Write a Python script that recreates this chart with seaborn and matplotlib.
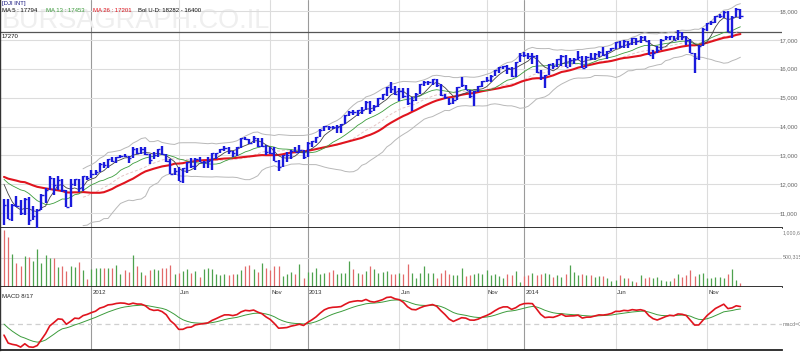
import numpy as np
import pandas as pd
import matplotlib
matplotlib.use("Agg")
import matplotlib.pyplot as plt
import matplotlib.transforms as mtrans
import seaborn as sns

# weekly bars, weeks ending on Friday, 12 Aug 2011 .. 2 Jan 2015
start_week = "2011-08-12"

high = [11500, 11500, 11330, 11610, 11450, 11520, 11550, 11260, 11150, 11670, 11880, 12280, 12230, 12280, 12190, 11800, 12190, 12200, 12190, 12300, 12300,
        12480, 12480, 12730, 12760, 12880, 12940, 12960, 13000, 13060, 12990, 13290, 13250, 13290, 13300, 13060, 13130, 13240, 13340, 13040, 12880, 12550, 12600, 12560, 12790, 12900, 12900, 12960, 12800, 12950, 13100, 13100, 13210, 13330, 13290, 13160, 13310, 13600, 13650, 13580, 13660, 13620, 13590, 13350, 13290, 13290, 12830, 13020, 13110, 13180, 13300, 13350, 13200,
        13480, 13500, 13650, 13900, 14020, 14010, 14020, 14040, 14090, 14400, 14540, 14560, 14590, 14680, 14890, 14870, 14750, 14980, 15120, 15370, 15540, 15410, 15320, 15330, 15350, 15030, 15150, 15470, 15590, 15570, 15660, 15650, 15470, 15110, 15000, 15000, 15380, 15710, 15450, 15250, 15240, 15400, 15580, 15710, 15800, 15970, 16070, 16100, 16120, 16050, 16230, 16530,
        16590, 16530, 16530, 16480, 15950, 15800, 16160, 16200, 16340, 16460, 16460, 16390, 16380, 16630, 16450, 16430, 16530, 16560, 16620, 16740, 16630, 16730, 16930, 16970, 16980, 16950, 17070, 17070, 17150, 17150, 17010, 16660, 16780, 17040, 17120, 17150, 17140, 17350, 17280, 17120, 17030, 16550, 16810, 17400, 17580, 17660, 17820, 17900, 17990, 17990, 17810, 18103, 18060]

low = [10604, 10800, 10720, 11200, 10930, 10930, 10600, 10770, 10404, 11100, 11350, 11800, 11640, 11800, 11750, 11230, 11230, 11960, 11730, 11770, 12140,
       12220, 12320, 12420, 12560, 12560, 12770, 12740, 12900, 12930, 12740, 12920, 13050, 13040, 13020, 12710, 12870, 12950, 13030, 12760, 12370, 12320, 12100, 12035, 12410, 12570, 12500, 12770, 12560, 12560, 12500, 12880, 13080, 13140, 13040, 12960, 12990, 13250, 13530, 13400, 13430, 13300, 13300, 13030, 13060, 12800, 12470, 12590, 12780, 12880, 13130, 13090, 12880,
       12940, 13300, 13430, 13650, 13840, 13880, 13930, 13780, 13780, 14080, 14380, 14400, 14380, 14430, 14560, 14440, 14540, 14660, 14930, 15070, 15170, 15100, 14880, 14980, 14760, 14550, 14900, 15130, 15420, 15440, 15450, 15370, 15070, 14960, 14760, 14780, 14920, 15370, 15250, 14990, 14720, 15200, 15360, 15550, 15550, 15740, 15850, 16000, 15820, 15700, 15700, 16220,
       16420, 16330, 16170, 15860, 15620, 15340, 15790, 16000, 16050, 16110, 16050, 16050, 16150, 16320, 16010, 16020, 16300, 16300, 16400, 16440, 16350, 16600, 16680, 16730, 16730, 16720, 16820, 16830, 16900, 16950, 16460, 16330, 16540, 16660, 16980, 16990, 16980, 16980, 16990, 16830, 16540, 15855, 16320, 16780, 17290, 17510, 17590, 17760, 17750, 17280, 17068, 17800, 17730]

close = [11269, 10818, 11285, 11240, 10992, 11509, 10771, 10913, 11103, 11644, 11808, 12231, 11983, 12153, 11796, 11231, 12019, 12184, 11866, 12294, 12218,
         12360, 12422, 12720, 12660, 12862, 12801, 12950, 12983, 12978, 12922, 13233, 13081, 13212, 13060, 12850, 13029, 13228, 13038, 12821, 12369, 12454, 12119, 12554, 12767, 12640, 12880, 12772, 12777, 12822, 13075, 13096, 13207, 13275, 13158, 13090, 13306, 13593, 13579, 13437, 13610, 13329, 13344, 13107, 13093, 12815, 12588, 13010, 13026, 13155, 13135, 13191, 12938,
         13435, 13488, 13650, 13896, 14010, 13993, 13982, 14001, 14090, 14397, 14515, 14512, 14579, 14565, 14865, 14547, 14712, 14974, 15118, 15354, 15303, 15116, 15248, 15070, 14799, 14910, 15135, 15464, 15543, 15559, 15658, 15425, 15081, 15010, 14810, 14922, 15376, 15452, 15258, 15073, 15237, 15400, 15570, 15615, 15762, 15962, 16065, 16086, 16020, 15755, 16221, 16479,
         16470, 16437, 16459, 15879, 15699, 15794, 16154, 16103, 16322, 16453, 16065, 16303, 16323, 16413, 16027, 16409, 16361, 16513, 16583, 16492, 16606, 16717, 16924, 16776, 16947, 16851, 17068, 16944, 17100, 16961, 16493, 16554, 16663, 17001, 17098, 17137, 16988, 17280, 17113, 17009, 16544, 16380, 16805, 17391, 17573, 17635, 17810, 17828, 17958, 17281, 17805, 18053, 17833]

# closes of the weeks before the first bar, only used to warm up the averages
warmup_close = [11675, 11787, 11872, 11824, 12092, 12273, 12391, 12130, 12169, 12044, 11859, 12221, 12377, 12380, 12342, 12505,
                12811, 12638, 12596, 12512, 12441, 12151, 11952, 12004, 11934, 12582, 12657, 12480, 12681, 12143, 11445]

# weekly volume, thousands
volume_k = [969, 850, 561, 408, 357, 527, 510, 442, 646, 408, 544, 493, 493, 340, 357, 272, 357, 340, 425, 289,
            136, 306, 323, 323, 323, 323, 323, 374, 221, 289, 255, 544, 357, 255, 204, 289, 306, 289, 323, 323,
            374, 221, 238, 272, 306, 238, 272, 170, 306, 323, 306, 221, 204, 221, 204, 221, 221, 289, 357, 374,
            306, 255, 408, 323, 289, 357, 357, 187, 221, 255, 221, 391, 153, 255, 255, 323, 221, 238, 255, 289,
            221, 238, 238, 442, 306, 238, 221, 272, 357, 306, 238, 255, 272, 221, 221, 238, 221, 391, 238, 153,
            238, 357, 238, 238, 153, 238, 289, 221, 204, 204, 323, 187, 204, 221, 238, 221, 289, 204, 221, 187,
            153, 221, 204, 272, 85, 187, 204, 238, 204, 221, 238, 221, 170, 204, 170, 221, 374, 255, 204, 221,
            204, 204, 170, 187, 187, 153, 102, 119, 204, 153, 153, 102, 85, 204, 153, 170, 153, 170, 119, 102,
            102, 153, 221, 170, 204, 289, 187, 221, 238, 153, 153, 170, 170, 153, 221, 306, 119, 68]

assert len(high) == len(low) == len(close) == len(volume_k)

sns.set_theme(style="white")
plt.rcParams['font.family'] = ['Liberation Sans', 'DejaVu Sans']

dates = pd.date_range(start_week, periods=len(close), freq="W-FRI")
df = pd.DataFrame({"x": np.arange(len(close)), "high": high, "low": low, "close": close,
                   "volume": np.array(volume_k) * 1000})

full = pd.Series(warmup_close + close, dtype=float)
n0 = len(warmup_close)
df["ma5"] = full.rolling(5).mean().iloc[n0:].values
df["ma13"] = full.rolling(13).mean().iloc[n0:].values
df["ma26"] = full.rolling(26).mean().iloc[n0:].values
roll = df["close"].rolling(20)
df["bol_mid"] = roll.mean()
sd = roll.std(ddof=0)
df["bol_up"] = df["bol_mid"] + 2 * sd
df["bol_dn"] = df["bol_mid"] - 2 * sd
macd = full.ewm(span=8, adjust=False).mean() - full.ewm(span=17, adjust=False).mean()
signal = macd.ewm(span=9, adjust=False).mean()
df["macd"] = macd.iloc[n0:].values
df["signal"] = signal.iloc[n0:].values
df["up"] = df["close"].values >= full.shift(1).iloc[n0:].values

W, H = 800, 352
fig = plt.figure(figsize=(W / 100, H / 100), dpi=100)
right = 782 / W
ax_p = fig.add_axes([0, 1 - 228 / H, right, 228 / H])
ax_v = fig.add_axes([0, 1 - 287 / H, right, 59 / H], sharex=ax_p)
ax_m = fig.add_axes([0, 1 - 350 / H, right, 63 / H], sharex=ax_p)

# month grid: Jan / Jun / Nov, first bar of the month
marks = []
for yr in (2012, 2013, 2014):
    for mo, name in ((1, str(yr)), (6, "Jun"), (11, "Nov")):
        i = int(np.argmax((dates.year == yr) & (dates.month == mo)))
        marks.append((i, name, mo == 1))

for ax in (ax_p, ax_v, ax_m):
    ax.set_facecolor("white")
    for i, name, is_year in marks:
        ax.axvline(i, color="#9a9a9a" if is_year else "#dcdcdc", lw=0.8, zorder=0)
    for s in ("top", "right"):
        ax.spines[s].set_visible(False)
    ax.spines["left"].set_color("#333333")
    ax.spines["left"].set_linewidth(1.0)
    ax.spines["bottom"].set_color("#222222")
    ax.spines["bottom"].set_linewidth(1.3)
    ax.tick_params(axis="x", bottom=False, labelbottom=False)

ax_p.set_xlim(-0.96, 187.0)

# ---- price panel
ax_p.text(2 / 782, 1 - 21 / 228, "BURSAGRAPH.CO.IL", transform=ax_p.transAxes, fontsize=19.5,
          color="#efefef", va="center", ha="left", zorder=0)
for lv in range(11000, 19000, 1000):
    ax_p.axhline(lv, color="#dcdcdc", lw=0.8, zorder=0)
ax_p.axhline(17270, color="#555555", lw=0.9, zorder=1)

sns.lineplot(data=df, x="x", y="bol_up", ax=ax_p, color="#b8b8b8", lw=0.7, legend=False)
sns.lineplot(data=df, x="x", y="bol_dn", ax=ax_p, color="#b8b8b8", lw=0.7, legend=False)
sns.lineplot(data=df, x="x", y="bol_mid", ax=ax_p, color="#e3c6c6", lw=0.7, dashes=(3, 2), legend=False)
sns.lineplot(data=df, x="x", y="ma26", ax=ax_p, color="#e0141e", lw=1.5, legend=False)
sns.lineplot(data=df, x="x", y="ma13", ax=ax_p, color="#3c9c3c", lw=0.6, legend=False)
sns.lineplot(data=df, x="x", y="ma5", ax=ax_p, color="#444444", lw=0.6, legend=False)

ax_p.vlines(df["x"], df["low"], df["high"], color="#1a1adc", lw=1.7, zorder=4)
ax_p.hlines(df["close"], df["x"], df["x"] + 0.55, color="#1a1adc", lw=1.0, zorder=4)

ax_p.set_ylim(10490, 18380)
ax_p.yaxis.tick_right()
ax_p.set_yticks(range(11000, 19000, 1000))
ax_p.set_yticklabels([f"{v:,}" for v in range(11000, 19000, 1000)])
ax_p.tick_params(axis="y", length=0, pad=-2, labelsize=4.3, labelcolor="#666666")
ax_p.set_xlabel("")
ax_p.set_ylabel("")

def fig_text(x, y, s, color="#111111", size=4.3):
    fig.text(x / W, 1 - y / H, s, color=color, fontsize=size, va="center", ha="left")

fig_text(2, 4, "[DJI INT]", color="#1a1a80")
fig_text(2, 11, "MA 5 : 17794")
fig_text(46, 11, "MA 13 : 17453", color="#3c9c3c")
fig_text(93, 11, "MA 26 : 17201", color="#e0141e")
fig_text(138, 11, "Bol U-D: 18282 - 16400")
fig_text(2, 36, "17270")

# ---- volume panel
ax_v.axhline(500315, color="#dcdcdc", lw=0.8, zorder=0)
ax_v.vlines(df["x"], 0, df["volume"], colors=np.where(df["up"], "#4ea24e", "#e26a6a"), lw=0.9)
ax_v.set_ylim(0, 1000630)
ax_v.set_yticks([])
ax_v.set_ylabel("")
fig_text(783, 233, "1,000,630", color="#777777", size=3.8)
fig_text(783, 257, "500,315", color="#777777", size=3.8)

# ---- macd panel
sns.lineplot(data=df, x="x", y="signal", ax=ax_m, color="#3c9c3c", lw=0.7, legend=False)
sns.lineplot(data=df, x="x", y="macd", ax=ax_m, color="#e0141e", lw=1.2, legend=False)
ax_m.axhline(0, color="#cfcfcf", lw=0.9, dashes=(4, 3), zorder=0)
k = 27 / df["macd"].max()
ax_m.set_ylim(-26 / k, 37 / k)
ax_m.set_yticks([])
ax_m.set_xlabel("")
ax_m.set_ylabel("")
fig_text(783, 324, "macd=0", color="#777777", size=3.8)
fig_text(2, 297, "MACD 8/17", color="#222222")
tr = mtrans.blended_transform_factory(ax_m.transData, ax_m.transAxes)
for i, name, is_year in marks:
    ax_m.text(i + 0.3, 1 - 6 / 63, name, transform=tr, fontsize=4.3, color="#333333", va="center", ha="left")

fig.savefig("out.png", dpi=100)
